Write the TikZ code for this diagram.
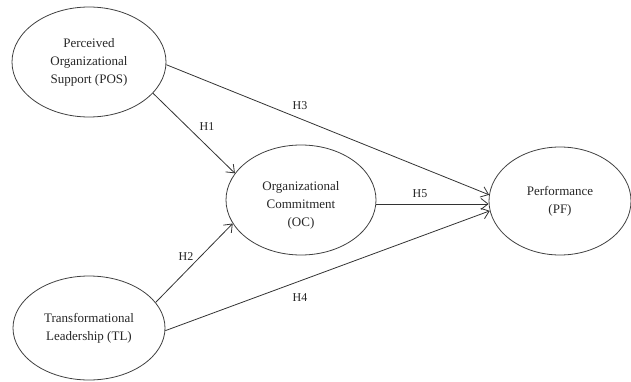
\documentclass[tikz,border=0pt]{standalone}
\usepackage{fontspec}
\setmainfont{Liberation Serif}
\usetikzlibrary{shapes.geometric,arrows.meta}
\begin{document}
\begin{tikzpicture}[x=1pt,y=1pt,
  construct/.style={draw=black!75, line width=0.8pt, ellipse, inner sep=0pt, align=center,
    font=\fontsize{13}{18}\selectfont, text=black!85},
  path/.style={draw=black!80, line width=0.8pt, -{Straight Barb[length=7pt,width=11pt]}},
  hlabel/.style={font=\fontsize{12}{14}\selectfont, text=black!85, inner sep=0pt}]
\useasboundingbox (0,0) rectangle (631,381);
\node[construct, minimum width=154, minimum height=110] (pos) at (89,319) {Perceived\\Organizational\\Support (POS)};
\node[construct, minimum width=150, minimum height=110] (oc) at (301,181) {};
\node[align=center, font=\fontsize{13}{18}\selectfont, text=black!85] (octext) at (301,176) {Organizational\\Commitment\\(OC)};
\node[construct, minimum width=142, minimum height=108] (pf) at (560,180) {Performance\\(PF)};
\node[construct, minimum width=152, minimum height=104] (tl) at (89,53) {Transformational\\Leadership (TL)};
\draw[path] (pos.-26.6) -- (oc.158.5);
\draw[path] (pos.-2.3) -- (pf.175);
\draw[path] (oc.-3) -- (oc.-3 -| pf.west);
\draw[path] (tl.21.5) -- (oc.199);
\draw[path] (tl.-2) -- (pf.188);
\node[hlabel] (h1) at (207,254) {H1};
\node[hlabel] (h3) at (300,275) {H3};
\node[hlabel] (h5) at (420,187) {H5};
\node[hlabel] (h2) at (186,124) {H2};
\node[hlabel] (h4) at (300,83) {H4};
\end{tikzpicture}
\end{document}
